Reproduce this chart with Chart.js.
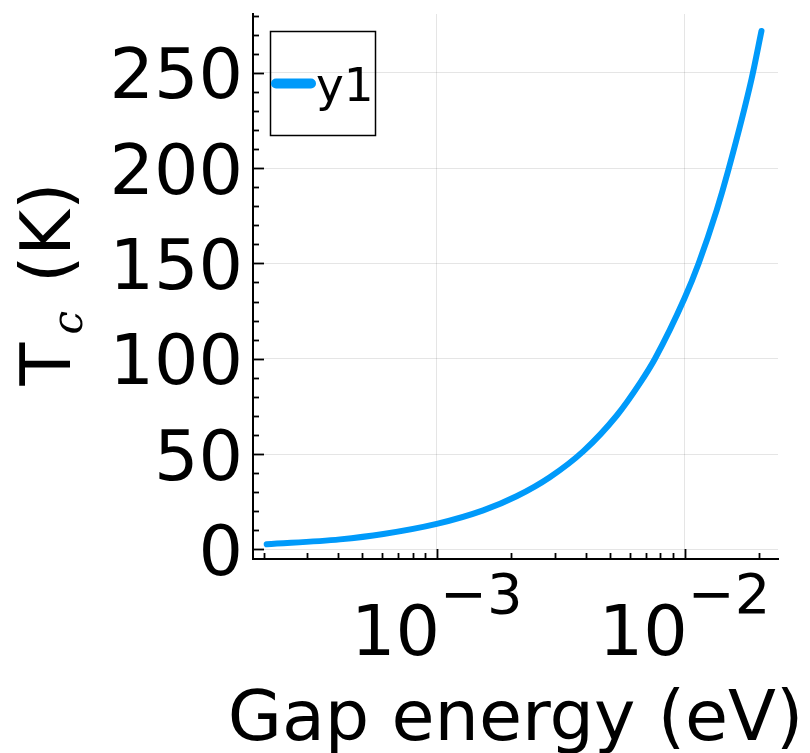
<!DOCTYPE html>
<html lang="en">
<head>
    <meta charset="UTF-8">
    <title>Tc vs gap energy</title>
    <script src="https://cdn.jsdelivr.net/npm/chart.js@4"></script>
    <style>
        html, body { margin: 0; padding: 0; background: white; }
        #tcChart { display: block; }
    </style>
</head>
<body>
<canvas id="tcChart" width="810" height="753"></canvas>
<script>
    // values
    const gapEnergy = [2.06e-4, 4.07e-4, 6.09e-4, 1.0e-3, 1.54e-3, 2.10e-3, 2.86e-3, 3.91e-3,
                       5.33e-3, 6.61e-3, 7.60e-3, 1.0e-2, 1.14e-2, 1.349e-2, 1.503e-2, 1.866e-2, 2.045e-2];
    const tcValues  = [2.6, 5.2, 8.0, 13.3, 20.4, 27.8, 37.8, 51.5,
                       70.2, 87.2, 100, 131.7, 150, 178, 199, 247, 272];
    const yTickLabels = [0, 50, 100, 150, 200, 250];
    const xTickExponents = [-3, -2];
    const seriesName = 'y1';

    const FONT = '"DejaVu Sans", "Liberation Sans", sans-serif';
    const lineColor = '#009AFA';

    // minor ticks every 10 on y, 2..9 per decade on x
    const yTicks = [];
    for (let v = 0; v <= 280; v += 10) yTicks.push(v);
    const xTicks = [];
    [-4, -3, -2].forEach(e => {
        for (let m = 1; m <= 9; m++) {
            const v = m * Math.pow(10, e);
            if (v > 1.8e-4 && v < 0.0238) xTicks.push(v);
        }
    });
    const isMajorX = v => xTickExponents.some(e => Math.abs(v - Math.pow(10, e)) < 1e-12);

    const grStyle = {
        id: 'grStyle',
        afterDraw(chart) {
            const ctx = chart.ctx;
            const xs = chart.scales.x, ys = chart.scales.y;
            const area = chart.chartArea;
            ctx.save();
            ctx.strokeStyle = '#000';
            ctx.fillStyle = '#000';

            // inward ticks
            ctx.lineWidth = 1.8;
            yTicks.forEach(v => {
                const py = Math.round(ys.getPixelForValue(v)) + 0.5;
                const len = yTickLabels.includes(v) ? 11 : 6;
                ctx.beginPath();
                ctx.moveTo(area.left, py);
                ctx.lineTo(area.left + len, py);
                ctx.stroke();
            });
            xTicks.forEach(v => {
                const px = Math.round(xs.getPixelForValue(v)) + 0.5;
                const len = isMajorX(v) ? 10 : 6;
                ctx.beginPath();
                ctx.moveTo(px, area.bottom);
                ctx.lineTo(px, area.bottom - len);
                ctx.stroke();
            });

            // y tick labels
            ctx.font = '70px ' + FONT;
            ctx.textAlign = 'right';
            ctx.textBaseline = 'alphabetic';
            yTickLabels.forEach(v => {
                ctx.fillText(String(v), area.left - 10, ys.getPixelForValue(v) + 25.5);
            });

            // x tick labels: 10 with superscript exponent
            ctx.textAlign = 'left';
            xTickExponents.forEach(e => {
                const base = '10', sup = '\u2212' + Math.abs(e);
                ctx.font = '70px ' + FONT;
                const wb = ctx.measureText(base).width;
                ctx.font = '56px ' + FONT;
                const ws = ctx.measureText(sup).width;
                const cx = xs.getPixelForValue(Math.pow(10, e));
                const x0 = cx - (wb + ws) / 2;
                ctx.font = '70px ' + FONT;
                ctx.fillText(base, x0, 655);
                ctx.font = '56px ' + FONT;
                ctx.fillText(sup, x0 + wb, 613);
            });

            // x axis title
            ctx.font = '70px ' + FONT;
            ctx.textAlign = 'center';
            ctx.fillText('Gap energy (eV)', (area.left + area.right) / 2, 740);

            // y axis title, rotated: T with italic subscript c, then (K)
            ctx.save();
            ctx.translate(70, 385.5);
            ctx.rotate(-Math.PI / 2);
            ctx.textAlign = 'left';
            ctx.font = '70px ' + FONT;
            ctx.fillText('T', 0, 0);
            ctx.font = 'italic 42px "DejaVu Serif", serif';
            ctx.fillText('c', 51, 12);
            ctx.font = '70px ' + FONT;
            ctx.fillText('(K)', 102.5, 0);
            ctx.restore();

            // legend box
            const ds = chart.data.datasets[0];
            ctx.lineWidth = 1.5;
            ctx.strokeRect(270.5, 31.5, 105, 104);
            ctx.strokeStyle = ds.borderColor;
            ctx.lineWidth = 10;
            ctx.lineCap = 'round';
            ctx.beginPath();
            ctx.moveTo(276, 83.5);
            ctx.lineTo(311, 83.5);
            ctx.stroke();
            ctx.font = '47px ' + FONT;
            ctx.textAlign = 'left';
            ctx.fillStyle = '#000';
            ctx.fillText(ds.label, 316, 100.5);

            ctx.restore();
        }
    };

    const chart = new Chart(document.getElementById('tcChart'), {
        type: 'line',
        data: {
            datasets: [{
                label: seriesName,
                data: gapEnergy.map((e, i) => ({ x: e, y: tcValues[i] })),
                borderColor: lineColor,
                borderWidth: 6,
                pointRadius: 0,
                fill: false,
                cubicInterpolationMode: 'monotone',
                borderCapStyle: 'round',
                borderJoinStyle: 'round'
            }]
        },
        options: {
            responsive: false,
            animation: false,
            devicePixelRatio: 1,
            layout: { padding: { top: 14, right: 32, left: 0, bottom: 0 } },
            plugins: { legend: { display: false }, tooltip: { enabled: false } },
            scales: {
                x: {
                    type: 'logarithmic',
                    min: 1.814e-4,
                    max: 0.02384,
                    afterBuildTicks: s => { s.ticks = xTicks.map(v => ({ value: v })); },
                    afterFit: s => { s.height = 194; },
                    ticks: { display: false },
                    grid: {
                        drawTicks: false,
                        lineWidth: 1,
                        color: c => isMajorX(c.tick.value) ? 'rgba(0,0,0,0.1)' : 'rgba(0,0,0,0)'
                    },
                    border: { display: true, color: '#000', width: 2 }
                },
                y: {
                    type: 'linear',
                    min: -5.1,
                    max: 280.9,
                    afterBuildTicks: s => { s.ticks = yTicks.map(v => ({ value: v })); },
                    afterFit: s => { s.width = 253; },
                    ticks: { display: false },
                    grid: {
                        drawTicks: false,
                        lineWidth: 1,
                        color: c => yTickLabels.includes(c.tick.value) ? 'rgba(0,0,0,0.1)' : 'rgba(0,0,0,0)'
                    },
                    border: { display: true, color: '#000', width: 2 }
                }
            }
        },
        plugins: [grStyle]
    });
</script>
</body>
</html>
